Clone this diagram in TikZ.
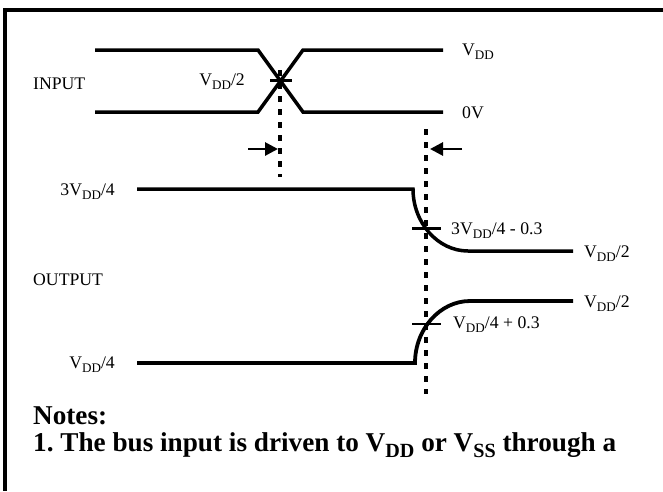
\documentclass[tikz,border=0pt]{standalone}
\usepackage{fontspec}
\setmainfont{Liberation Serif}
\usetikzlibrary{arrows.meta}
\newcommand\lowsub[1]{\raisebox{-0.25em}{\scalebox{0.74}{#1}}}
\newcommand\vdd{V\lowsub{DD}}
\frenchspacing
\begin{document}
\begin{tikzpicture}[x=1pt,y=-1pt,
  sig/.style={line width=3.5pt,line join=miter},
  tickmark/.style={line width=3pt},
  dotline/.style={line width=3.2pt,dash pattern=on 6pt off 7pt},
  arr/.style={line width=2.8pt,-{Triangle[length=13pt,width=13pt]}},
  lbl/.style={inner sep=0pt,font=\fontsize{17.7}{20}\selectfont},
  note/.style={inner sep=0pt,anchor=base west,font=\fontsize{27.2}{29}\selectfont\bfseries}]
\useasboundingbox (0,0) rectangle (663,491);
\fill[white] (0,0) rectangle (663,491);
% frame
\coordinate (fr1) at (663,10);
\coordinate (fr2) at (5,10);
\coordinate (fr3) at (5,491);
\draw[line width=4pt,line join=miter] (fr1) -- (fr2) -- (fr3);
% input waveform
\coordinate (i1) at (95,50);
\coordinate (i2) at (258,50);
\coordinate (i3) at (303,112);
\coordinate (i4) at (443,112);
\coordinate (j1) at (95,112);
\coordinate (j2) at (258,112);
\coordinate (j3) at (303,50);
\coordinate (j4) at (443,50);
\draw[sig] (i1) -- (i2) -- (i3) -- (i4);
\draw[sig] (j1) -- (j2) -- (j3) -- (j4);
\coordinate (tx1) at (270,80);
\coordinate (tx2) at (292,80);
\draw[tickmark] (tx1) -- (tx2);
% dotted lines
\coordinate (d1a) at (280,70);
\coordinate (d1b) at (280,177);
\draw[dotline] (d1a) -- (d1b);
\coordinate (d2a) at (426,129);
\coordinate (d2b) at (426,394);
\draw[dotline] (d2a) -- (d2b);
% arrows
\coordinate (a1s) at (248,149);
\coordinate (a1e) at (278,149);
\draw[arr] (a1s) -- (a1e);
\coordinate (a2s) at (462,149);
\coordinate (a2e) at (430,149);
\draw[arr] (a2s) -- (a2e);
% output falling
\coordinate (o1) at (137,189);
\coordinate (o2) at (413,189);
\coordinate (o3) at (468,251);
\coordinate (o4) at (573,251);
\draw[sig] (o1) -- (o2) .. controls (413,223) and (438,251) .. (o3) -- (o4);
\coordinate (t1a) at (412,228);
\coordinate (t1b) at (441,228);
\draw[tickmark] (t1a) -- (t1b);
% output rising
\coordinate (p1) at (137,363);
\coordinate (p2) at (415,363);
\coordinate (p3) at (470,301);
\coordinate (p4) at (573,301);
\draw[sig,line width=3.8pt] (p1) -- (p2) .. controls (415,329) and (440,301) .. (p3) -- (p4);
\coordinate (t2a) at (412,324);
\coordinate (t2b) at (441,324);
\draw[line width=2.2pt] (t2a) -- (t2b);
% labels
\node[lbl,anchor=base west] (lvdd) at (462,55) {\vdd};
\node[lbl,anchor=base west] (l0v) at (462,118) {0V};
\node[lbl,anchor=base west] (linput) at (33,89) {INPUT};
\node[lbl,anchor=base east] (lhalf) at (245,85) {\vdd/2};
\node[lbl,anchor=base east] (l34) at (115,195) {3\vdd/4};
\node[lbl,anchor=base west] (lout) at (33,285) {OUTPUT};
\node[lbl,anchor=base east] (l14) at (115,368) {\vdd/4};
\node[lbl,anchor=base west] (l34m) at (451,234) {3\vdd/4 - 0.3};
\node[lbl,anchor=base west] (lh1) at (584,257) {\vdd/2};
\node[lbl,anchor=base west] (lh2) at (584,307) {\vdd/2};
\node[lbl,anchor=base west] (l14p) at (453,328) {\vdd/4 + 0.3};
\node[note] (n0) at (33,424) {Notes:};
\node[note] (n1) at (33,451) {1. The bus input is driven to \vdd{} or V\lowsub{SS} through a};
\end{tikzpicture}
\end{document}
